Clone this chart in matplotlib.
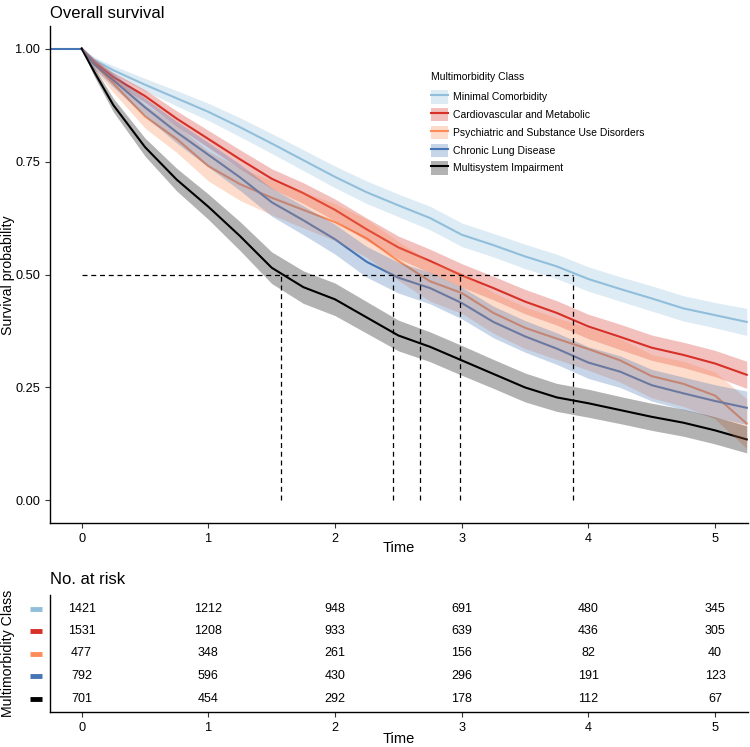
import numpy as np
import matplotlib
matplotlib.use('Agg')
import matplotlib.pyplot as plt
from matplotlib.patches import Patch
from matplotlib.lines import Line2D
from matplotlib.transforms import blended_transform_factory

plt.rcParams['font.family'] = ['Liberation Sans', 'DejaVu Sans']

#---------- data
groups = ['Minimal Comorbidity', 'Cardiovascular and Metabolic',
          'Psychiatric and Substance Use Disorders', 'Chronic Lung Disease',
          'Multisystem Impairment']
colors = ['#91BFDB', '#D73027', '#FC8D59', '#4575B4', '#000000']

times = [0, 0.1, 0.25, 0.5, 0.75, 1, 1.25, 1.5, 1.75, 2, 2.25, 2.5, 2.75,
         3, 3.25, 3.5, 3.75, 4, 4.25, 4.5, 4.75, 5, 5.25]

surv_minimal = [1.0, 0.975, 0.952, 0.92, 0.89, 0.86, 0.826, 0.79, 0.753, 0.716, 0.682, 0.653,
                0.625, 0.588, 0.565, 0.54, 0.518, 0.49, 0.468, 0.447, 0.425, 0.41, 0.395]
surv_cardio = [1.0, 0.97, 0.937, 0.895, 0.845, 0.80, 0.755, 0.712, 0.68, 0.643, 0.60, 0.56,
               0.53, 0.498, 0.47, 0.44, 0.415, 0.385, 0.362, 0.338, 0.322, 0.303, 0.278]
surv_psych = [1.0, 0.965, 0.923, 0.85, 0.80, 0.74, 0.70, 0.67, 0.643, 0.616, 0.58, 0.53,
              0.485, 0.459, 0.415, 0.382, 0.358, 0.335, 0.31, 0.275, 0.258, 0.232, 0.17]
surv_lung = [1.0, 0.965, 0.93, 0.87, 0.815, 0.765, 0.715, 0.66, 0.62, 0.578, 0.528, 0.493,
             0.47, 0.437, 0.395, 0.363, 0.336, 0.305, 0.285, 0.255, 0.237, 0.22, 0.205]
surv_multi = [1.0, 0.948, 0.875, 0.782, 0.71, 0.65, 0.585, 0.515, 0.472, 0.445, 0.405, 0.365,
              0.34, 0.31, 0.28, 0.25, 0.228, 0.215, 0.2, 0.185, 0.172, 0.155, 0.135]

# half width of the confidence band
ci_minimal = [0, 0.006, 0.01, 0.014, 0.017, 0.019, 0.021, 0.022, 0.023, 0.024, 0.025, 0.025,
              0.026, 0.026, 0.026, 0.027, 0.027, 0.027, 0.027, 0.028, 0.028, 0.028, 0.03]
ci_cardio = [0, 0.006, 0.01, 0.014, 0.017, 0.019, 0.021, 0.022, 0.023, 0.024, 0.025, 0.025,
             0.026, 0.026, 0.026, 0.027, 0.027, 0.027, 0.028, 0.028, 0.028, 0.029, 0.03]
ci_psych = [0, 0.012, 0.02, 0.026, 0.03, 0.033, 0.036, 0.038, 0.04, 0.041, 0.042, 0.043,
            0.044, 0.045, 0.045, 0.046, 0.046, 0.047, 0.048, 0.048, 0.05, 0.052, 0.055]
ci_lung = [0, 0.01, 0.015, 0.02, 0.024, 0.027, 0.029, 0.031, 0.032, 0.033, 0.034, 0.034,
           0.035, 0.035, 0.035, 0.035, 0.035, 0.035, 0.035, 0.035, 0.036, 0.036, 0.037]
ci_multi = [0, 0.01, 0.015, 0.02, 0.025, 0.028, 0.032, 0.035, 0.036, 0.036, 0.035, 0.034,
            0.033, 0.033, 0.032, 0.032, 0.031, 0.031, 0.03, 0.03, 0.03, 0.03, 0.03]

medians = [3.88, 2.985, 2.67, 2.455, 1.57]

risk_times = [0, 1, 2, 3, 4, 5]
risk_minimal = [1421, 1212, 948, 691, 480, 345]
risk_cardio = [1531, 1208, 933, 639, 436, 305]
risk_psych = [477, 348, 261, 156, 82, 40]
risk_lung = [792, 596, 430, 296, 191, 123]
risk_multi = [701, 454, 292, 178, 112, 67]

surv = [surv_minimal, surv_cardio, surv_psych, surv_lung, surv_multi]
ci = [ci_minimal, ci_cardio, ci_psych, ci_lung, ci_multi]
risk = [risk_minimal, risk_cardio, risk_psych, risk_lung, risk_multi]

#---------- plotting
fig = plt.figure(figsize=(7.5, 7.47), dpi=100)
W, H = 750., 747.
ax1 = fig.add_axes([50/W, 1-523/H, 698/W, 497/H])
ax2 = fig.add_axes([50/W, 1-712/H, 698/W, 117/H])

xmin, xmax = -0.25, 5.26
t = np.array(times)

# lines first, ribbons on top (as in the original)
ax1.hlines(1.0, xmin, 0, color=colors[3], lw=1.5, zorder=2)
for s, c in zip(surv, colors):
    ax1.plot(t, s, color=c, lw=1.5, zorder=2)
for s, h, c in zip(surv, ci, colors):
    s = np.array(s); h = np.array(h)
    ax1.fill_between(t, s-h, s+h, color=c, alpha=0.3, lw=0, zorder=3)

# median lines
ax1.hlines(0.5, 0, max(medians), color='k', lw=0.9, linestyles=(0, (4, 3)), zorder=4)
ax1.vlines(medians, 0, 0.5, color='k', lw=0.9, linestyles=(0, (4, 3)), zorder=4)

ax1.set_xlim(xmin, xmax)
ax1.set_ylim(-0.05, 1.05)
ax1.set_xticks([0, 1, 2, 3, 4, 5])
ax1.set_yticks([0, 0.25, 0.5, 0.75, 1.0])
ax1.set_yticklabels(['0.00', '0.25', '0.50', '0.75', '1.00'])
ax1.set_title('Overall survival', fontsize=12, loc='left', pad=6)

for ax in (ax1, ax2):
    ax.spines['top'].set_visible(False); ax.spines['right'].set_visible(False)
    ax.spines['left'].set_linewidth(1.0); ax.spines['bottom'].set_linewidth(1.0)
    ax.tick_params(labelsize=9.2, length=3.5, width=0.8, colors='#333333', labelcolor='black')

# axis titles placed as in the reference
fig.text(399/W, 1-548/H, 'Time', ha='center', va='center', fontsize=10.5)
fig.text(399/W, 1-739/H, 'Time', ha='center', va='center', fontsize=10.5)
fig.text(8/W, 1-275/H, 'Survival probability', ha='center', va='center', rotation=90, fontsize=10.2)
fig.text(8/W, 1-653/H, 'Multimorbidity Class', ha='center', va='center', rotation=90, fontsize=10.2)

# legend
handles = [(Patch(facecolor=c, alpha=0.3, lw=0), Line2D([], [], color=c, lw=1.5)) for c in colors]
leg = fig.legend(handles, groups, title='Multimorbidity Class', loc='upper left',
                 bbox_to_anchor=(431/W, 1-72/H), frameon=False, fontsize=7.5,
                 title_fontsize=7.5, handlelength=1.65, handleheight=1.6,
                 labelspacing=0.42, handletextpad=0.5, borderpad=0, borderaxespad=0,
                 alignment='left')
leg._legend_box.sep = 6

# risk table
rows = np.arange(1, len(groups)+1)
for r, vals in zip(rows, risk):
    for x, v in zip(risk_times, vals):
        ax2.text(x, r, str(v), ha='center', va='center', fontsize=9)
trans = blended_transform_factory(ax2.transAxes, ax2.transData)
for r, c in zip(rows, colors):
    ax2.plot([-0.029, -0.012], [r, r], color=c, lw=3.5, solid_capstyle='butt',
             transform=trans, clip_on=False)
ax2.set_xlim(xmin, xmax)
ax2.set_ylim(5.6, 0.4)
ax2.set_xticks([0, 1, 2, 3, 4, 5])
ax2.set_yticks([])
ax2.set_title('No. at risk', fontsize=12, loc='left', pad=8)

plt.savefig('out.png', dpi=100)
